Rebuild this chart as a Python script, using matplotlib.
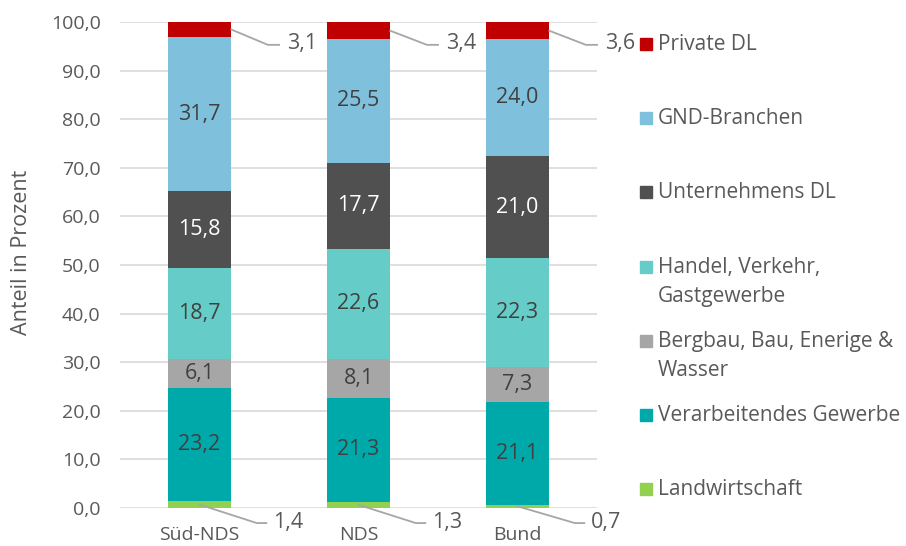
import matplotlib.pyplot as plt
import numpy as np

# Daten (Anteile in Prozent)
regions = ["Süd-NDS", "NDS", "Bund"]
sectors = [
    "Landwirtschaft",
    "Verarbeitendes Gewerbe",
    "Bergbau, Bau, Enerige &\nWasser",
    "Handel, Verkehr,\nGastgewerbe",
    "Unternehmens DL",
    "GND-Branchen",
    "Private DL",
]
landwirtschaft = [1.4, 1.3, 0.7]
verarbeitendes = [23.2, 21.3, 21.1]
bergbau = [6.1, 8.1, 7.3]
handel = [18.7, 22.6, 22.3]
unternehmens = [15.8, 17.7, 21.0]
gnd = [31.7, 25.5, 24.0]
private = [3.1, 3.4, 3.6]

colors = ["#92D050", "#00A9A9", "#A6A6A6", "#66CCC8", "#505050", "#7FC1DC", "#C00000"]
label_colors = ["#404040", "#404040", "#404040", "#404040", "white", "#404040", "#404040"]
text_grey = "#595959"
fs = 15

plt.rcParams['font.family'] = ['Open Sans', 'DejaVu Sans']

series = [landwirtschaft, verarbeitendes, bergbau, handel, unternehmens, gnd, private]


def fmt(v):
    return f"{v:.1f}".replace(".", ",")


fig = plt.figure(figsize=(9.06, 5.46), dpi=100)
ax = fig.add_axes([0.1325, 0.0696, 0.5265, 0.8901])

x = np.arange(len(regions))
width = 0.40
bottom = np.zeros(len(regions))
for i, vals in enumerate(series):
    vals = np.array(vals)
    ax.bar(x, vals, width, bottom=bottom, color=colors[i], zorder=2)
    mids = bottom + vals / 2
    if i == 0:
        # Landwirtschaft: Beschriftung mit Führungslinie unter der Achse
        for xi, m, v in zip(x, mids, vals):
            ax.plot([xi, xi + 0.36, xi + 0.42], [m, -3.1, -3.1],
                    color="#A6A6A6", lw=1.3, clip_on=False, zorder=3)
            ax.text(xi + 0.46, -2.9, fmt(v), ha="left", va="center",
                    fontsize=fs + 0.5, color=text_grey, clip_on=False)
    elif i == len(series) - 1:
        # Private DL: Beschriftung rechts neben dem Balken
        for xi, m, v in zip(x, mids, vals):
            ax.plot([xi + width / 2, xi + 0.43, xi + 0.50], [m, 95.3, 95.3],
                    color="#A6A6A6", lw=1.3, clip_on=False, zorder=3)
            ax.text(xi + 0.55, 95.5, fmt(v), ha="left", va="center",
                    fontsize=fs + 0.5, color=text_grey, clip_on=False)
    else:
        for xi, m, v in zip(x, mids, vals):
            ax.text(xi, m, fmt(v), ha="center", va="center",
                    fontsize=fs + 0.5, color=label_colors[i], zorder=4)
    bottom += vals

ax.set_xlim(-0.5, 2.5)
ax.set_ylim(0, 100)
ticks = np.arange(0, 101, 10)
ax.set_yticks(ticks)
ax.set_yticklabels([fmt(t) for t in ticks])
ax.set_xticks(x)
ax.set_xticklabels(regions)
ax.tick_params(axis="both", length=0, labelsize=fs - 1, colors=text_grey)
ax.tick_params(axis="y", pad=14)
ax.tick_params(axis="x", pad=13)
ax.grid(axis="y", color="#D9D9D9", lw=1.2, zorder=0)
ax.set_axisbelow(True)
for s in ax.spines.values():
    s.set_visible(False)

ax.set_ylabel("Anteil in Prozent", fontsize=fs + 0.5, color=text_grey)
ax.yaxis.set_label_coords(-0.185, 0.527)

# Legende (manuell, von oben nach unten)
leg_top = 1 - 44 / 546
leg_step = 74.2 / 546
for k, name in enumerate(reversed(sectors)):
    yk = leg_top - k * leg_step
    col = colors[len(sectors) - 1 - k]
    fig.patches.append(plt.Rectangle((640 / 906, yk - 6 / 546), 12 / 906, 12 / 546,
                                     transform=fig.transFigure, color=col))
    fig.text(658 / 906, yk + 10 / 546, name, ha="left", va="top", fontsize=fs,
             color=text_grey, linespacing=1.5)

fig.savefig("out.png", dpi=100)
